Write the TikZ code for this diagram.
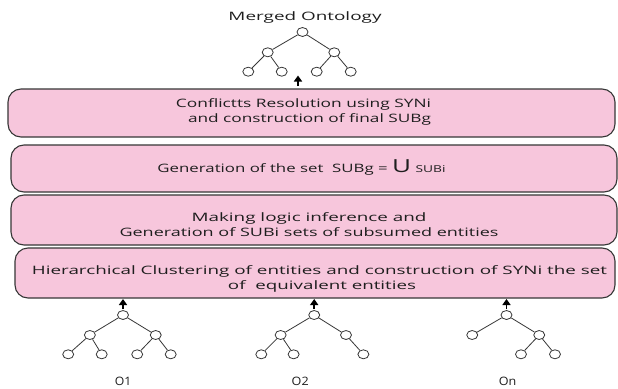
\documentclass[tikz,border=0pt]{standalone}
\usepackage{fontspec}
\usepackage{graphicx}
\usetikzlibrary{arrows.meta,shapes.geometric}
\newfontfamily\lab{Open Sans}
\newcommand{\wline}[2]{\resizebox{#1pt}{\height}{#2}}
\definecolor{boxpink}{RGB}{247,198,220}
\definecolor{edgegray}{RGB}{55,55,55}
\definecolor{txtgray}{RGB}{30,30,30}
\begin{document}
\begin{tikzpicture}[x=1pt,y=-1pt,
  box/.style={draw=edgegray,line width=1.1pt,fill=boxpink,rounded corners=13pt,inner sep=0pt},
  txt/.style={font=\lab\fontsize{11.6}{15}\selectfont,text=txtgray,align=center,inner sep=0pt},
  vtx/.style={ellipse,draw=edgegray,line width=0.8pt,fill=white,minimum width=11pt,minimum height=9pt,inner sep=0pt},
  tedge/.style={draw=edgegray,line width=0.8pt},
  upar/.style={draw=black,line width=1.5pt,-{Triangle[width=8pt,length=6pt]}}]
\useasboundingbox (0,0) rectangle (618,388);
\fill[white] (0,0) rectangle (618,388);

% boxes
\node[box,minimum width=607pt,minimum height=48pt] (b1) at (311.5,113) {};
\node[box,minimum width=606pt,minimum height=47pt] (b2) at (314,168.5) {};
\node[box,minimum width=606pt,minimum height=50pt] (b3) at (314,220) {};
\node[box,minimum width=600pt,minimum height=50pt] (b4) at (315,273) {};

% texts
\node[txt] (t1) at (303.5,111.5) {\wline{255}{Conflictts Resolution using SYNi}\\\hspace*{12pt}\wline{243}{and construction of final SUBg}};
\node[txt,anchor=base] (t2) at (301.5,172.3) {\wline{288}{Generation of the set\ \ SUBg =\ {\fontsize{18}{18}\selectfont U} {\fontsize{9.5}{10}\selectfont SUBi}}};
\node[txt] (t3) at (309,224.3) {\wline{235}{Making logic inference and}\\\wline{379}{Generation of SUBi sets of subsumed entities}};
\node[txt] (t4) at (319.5,278.5) {\wline{575}{Hierarchical Clustering of entities and construction of SYNi the set}\\\hspace*{5pt}\wline{188}{of\ \ equivalent entities}};
\node[txt,anchor=base] (tm) at (305,20.7) {\wline{153}{Merged Ontology}};
\node[txt,anchor=base] (l1) at (123,385.5) {\wline{16.5}{O1}};
\node[txt,anchor=base] (l2) at (300.2,385.5) {\wline{17}{O2}};
\node[txt,anchor=base] (ln) at (507.5,385.5) {\wline{17.5}{On}};

% merged tree
\node[vtx] (mr) at (302.5,32) {};
\node[vtx] (ma) at (267.7,52.3) {};
\node[vtx] (mb) at (334.3,52.3) {};
\node[vtx] (ma1) at (248.3,71.7) {};
\node[vtx] (ma2) at (281.7,71.7) {};
\node[vtx] (mb1) at (316.7,71.7) {};
\node[vtx] (mb2) at (350.7,71.7) {};
\draw[tedge] (mr) -- (ma) (mr) -- (mb) (ma) -- (ma1) (ma) -- (ma2) (mb) -- (mb1) (mb) -- (mb2);
\coordinate (ms) at (298,86);
\coordinate (me) at (298,75.5);
\draw[upar] (ms) -- (me);

% O1 tree
\node[vtx] (ar) at (123,315) {};
\node[vtx] (aa) at (89.9,335) {};
\node[vtx] (ab) at (155.7,335) {};
\node[vtx] (aa1) at (68.2,354.3) {};
\node[vtx] (aa2) at (101.7,354.3) {};
\node[vtx] (ab1) at (137.2,354.3) {};
\node[vtx] (ab2) at (170.7,354.3) {};
\draw[tedge] (ar) -- (aa) (ar) -- (ab) (aa) -- (aa1) (aa) -- (aa2) (ab) -- (ab1) (ab) -- (ab2);
\coordinate (as) at (123,309);
\coordinate (ae) at (123,299);
\draw[upar] (as) -- (ae);

% O2 tree
\node[vtx] (br) at (314.2,315) {};
\node[vtx] (ba) at (280.6,335) {};
\node[vtx] (bb) at (346,335) {};
\node[vtx] (ba1) at (261.3,354.3) {};
\node[vtx] (ba2) at (293.6,354.3) {};
\node[vtx] (bb1) at (363.4,354.3) {};
\draw[tedge] (br) -- (ba) (br) -- (bb) (ba) -- (ba1) (ba) -- (ba2) (bb) -- (bb1);
\coordinate (bs) at (314.2,309);
\coordinate (be) at (314.2,299);
\draw[upar] (bs) -- (be);

% On tree
\node[vtx] (cr) at (506.5,315) {};
\node[vtx] (ca) at (472.2,335) {};
\node[vtx] (cb) at (539.2,335) {};
\node[vtx] (cb1) at (521,354.3) {};
\node[vtx] (cb2) at (555,354.3) {};
\draw[tedge] (cr) -- (ca) (cr) -- (cb) (cb) -- (cb1) (cb) -- (cb2);
\coordinate (cs) at (506.5,309);
\coordinate (ce) at (506.5,299);
\draw[upar] (cs) -- (ce);
\end{tikzpicture}
\end{document}
